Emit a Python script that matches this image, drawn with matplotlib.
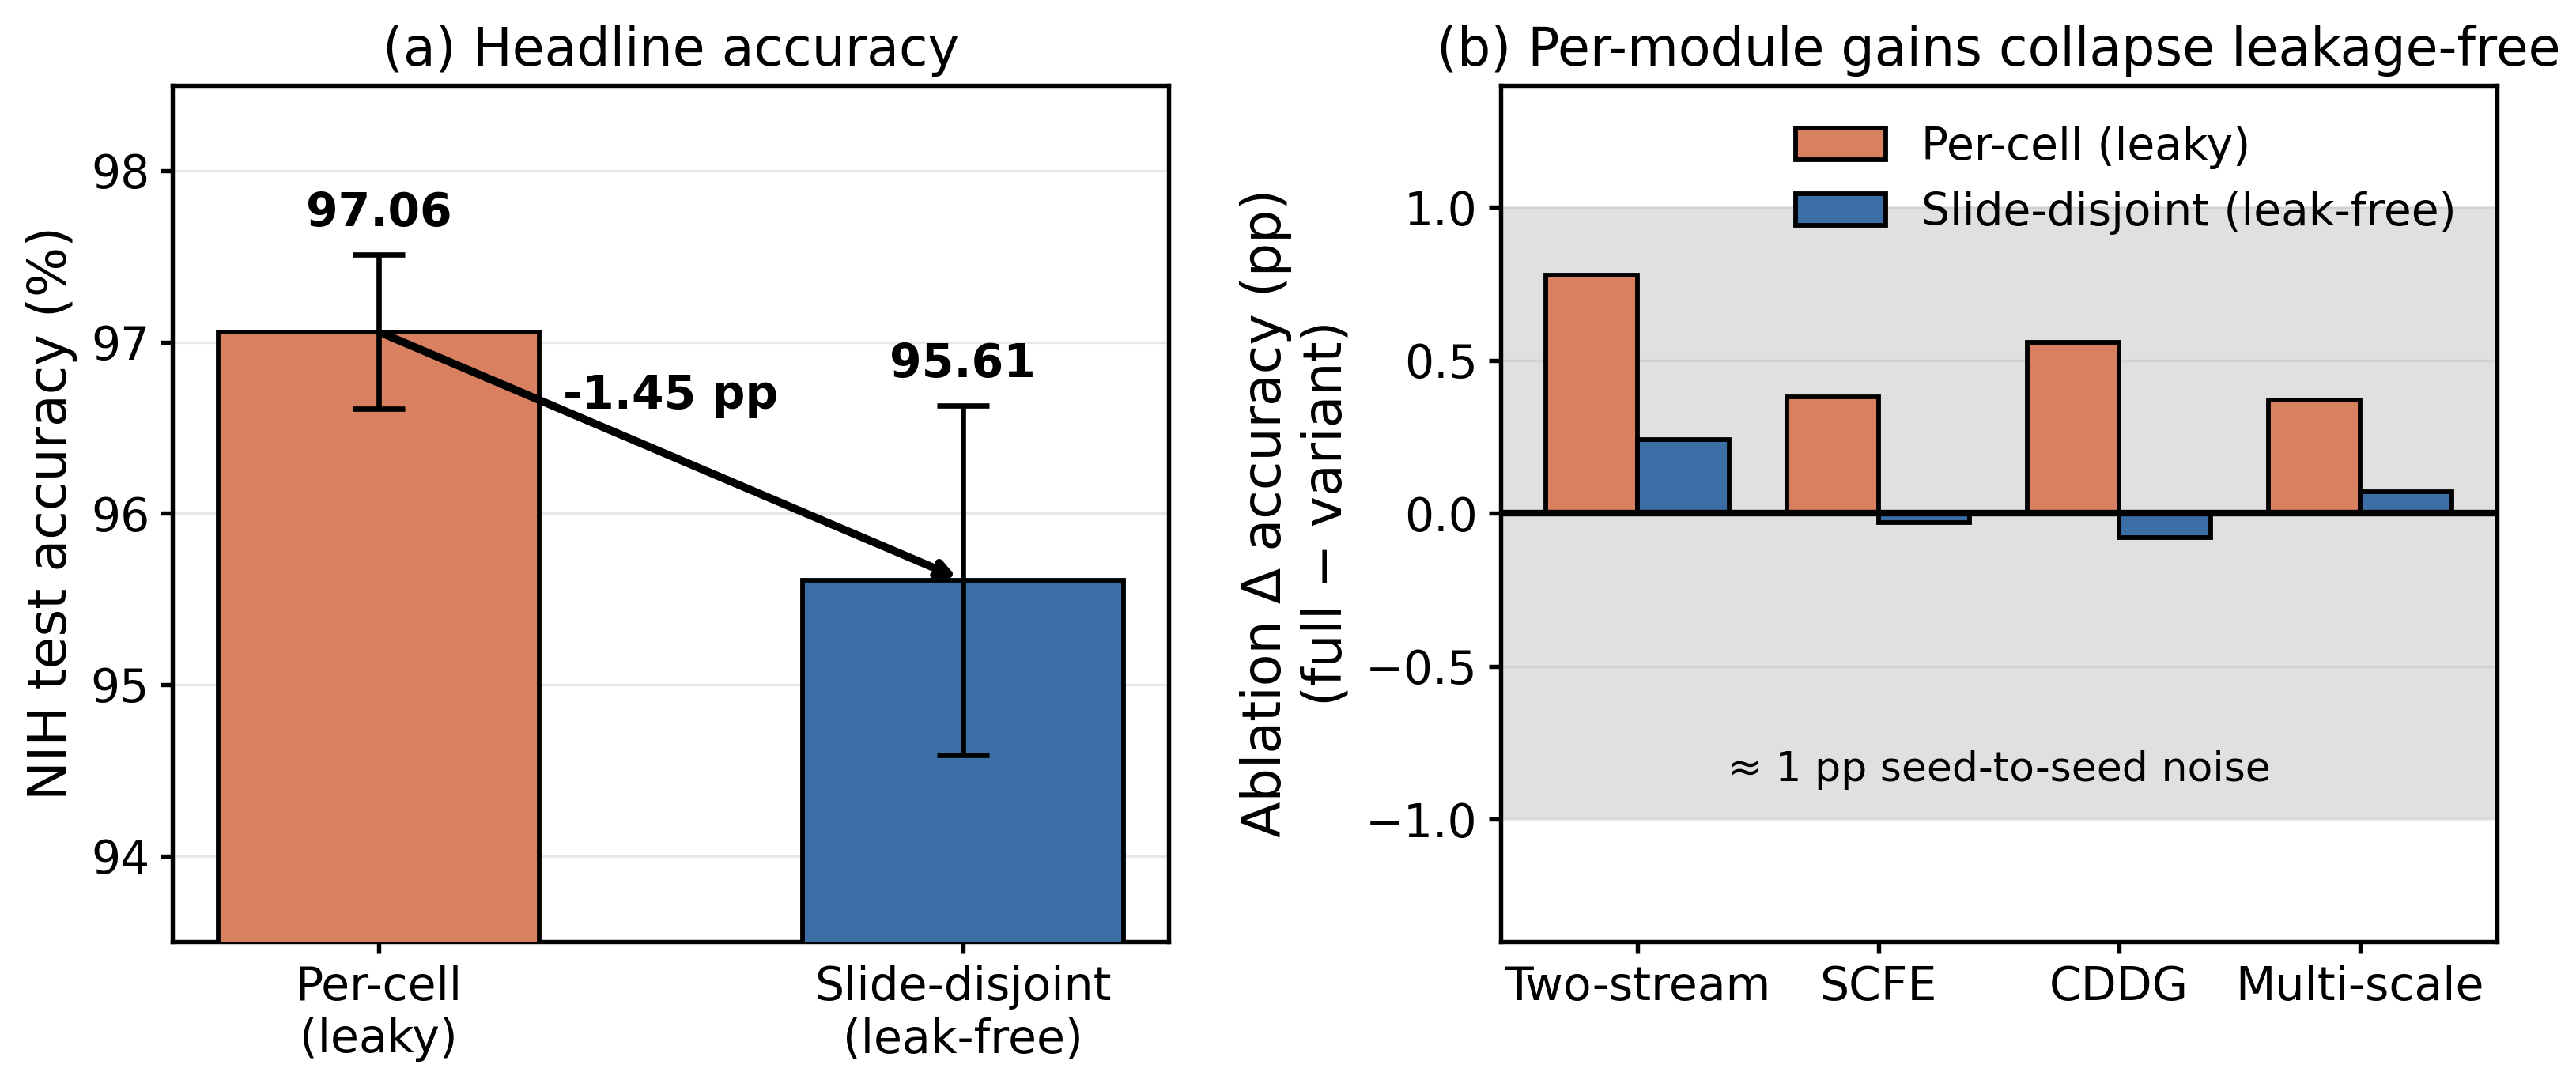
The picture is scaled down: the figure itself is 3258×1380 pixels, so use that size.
import numpy as np
import matplotlib
matplotlib.use("Agg")
import matplotlib.pyplot as plt

# panel (a) data
split_labels = ["Per-cell\n(leaky)", "Slide-disjoint\n(leak-free)"]
acc_mean = [97.06, 95.61]
acc_err = [0.45, 1.02]

# panel (b) data
modules = ["Two-stream", "SCFE", "CDDG", "Multi-scale"]
delta_leaky = [0.78, 0.38, 0.56, 0.37]
delta_free = [0.24, -0.03, -0.08, 0.07]

c_leaky = "#d98060"
c_free = "#3b6ea5"

plt.rcParams["axes.linewidth"] = 1.3
plt.rcParams["xtick.major.width"] = 1.3
plt.rcParams["ytick.major.width"] = 1.3

fig, (ax1, ax2) = plt.subplots(1, 2, figsize=(10.863, 4.6), dpi=300)
fig.subplots_adjust(left=0.067, right=0.969, bottom=0.137, top=0.922, wspace=0.333)

# (a) headline accuracy
x = np.arange(len(split_labels))
ax1.bar(x, acc_mean, width=0.55, color=[c_leaky, c_free], edgecolor="black",
        linewidth=1.4, yerr=acc_err, capsize=8,
        error_kw=dict(elinewidth=1.6, capthick=1.6), zorder=3)
for xi, m, e in zip(x, acc_mean, acc_err):
    ax1.text(xi, m + e + 0.11, f"{m:.2f}", ha="center", va="bottom",
             fontsize=14, fontweight="bold")
ax1.annotate("", xy=(x[1], acc_mean[1]), xytext=(x[0], acc_mean[0]),
             arrowprops=dict(arrowstyle="->", lw=2.4, color="black"), zorder=5)
ax1.text(0.5, (acc_mean[0] + acc_mean[1]) / 2 + 0.35,
         f"{acc_mean[1] - acc_mean[0]:.2f} pp", ha="center", va="center",
         fontsize=14, fontweight="bold")
ax1.set_ylim(93.5, 98.5)
ax1.set_xticks(x)
ax1.set_xticklabels(split_labels, fontsize=14)
ax1.tick_params(axis="y", labelsize=14)
ax1.set_ylabel("NIH test accuracy (%)", fontsize=16)
ax1.set_title("(a) Headline accuracy", fontsize=16)
ax1.grid(axis="y", alpha=0.3, zorder=0)
ax1.set_axisbelow(True)

# (b) per-module ablation deltas
xm = np.arange(len(modules))
w = 0.38
ax2.axhspan(-1, 1, color="gray", alpha=0.24, lw=0, zorder=0)
ax2.bar(xm - w / 2, delta_leaky, width=w, color=c_leaky, edgecolor="black",
        linewidth=1.4, label="Per-cell (leaky)", zorder=3)
ax2.bar(xm + w / 2, delta_free, width=w, color=c_free, edgecolor="black",
        linewidth=1.4, label="Slide-disjoint (leak-free)", zorder=3)
ax2.axhline(0, color="black", lw=2.0, zorder=4)
ax2.text(1.5, -0.84, "\u2248 1 pp seed-to-seed noise", ha="center", va="center",
         fontsize=12.5)
ax2.set_ylim(-1.4, 1.4)
ax2.set_yticks([-1.0, -0.5, 0.0, 0.5, 1.0])
ax2.set_xticks(xm)
ax2.set_xticklabels(modules, fontsize=14)
ax2.tick_params(axis="y", labelsize=14)
ax2.set_ylabel("Ablation \u0394 accuracy (pp)\n(full \u2212 variant)", fontsize=16)
ax2.set_title("(b) Per-module gains collapse leakage-free", fontsize=16)
ax2.grid(axis="y", alpha=0.3, zorder=1)
ax2.legend(loc="upper right", frameon=False, fontsize=13.6)

plt.savefig("out.png", dpi=300)
